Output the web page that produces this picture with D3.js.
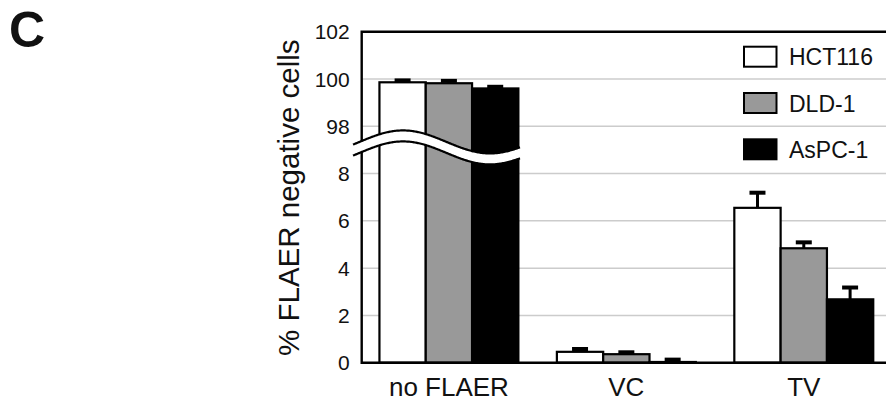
<!DOCTYPE html>
<html>
<head>
<meta charset="utf-8">
<script src="https://cdn.jsdelivr.net/npm/d3@7"></script>
<style>
  body { margin: 0; background: #fff; }
  text { font-family: "Liberation Sans", Arial, sans-serif; fill: #111; }
</style>
</head>
<body>
<svg id="chart"></svg>
<script>
// data
const categories = ['no FLAER', 'VC', 'TV'];
const seriesNames = ['HCT116', 'DLD-1', 'AsPC-1'];
const hct116 = [99.86, 0.46, 6.55];
const hct116Err = [0.08, 0.12, 0.64];
const dld1 = [99.82, 0.36, 4.84];
const dld1Err = [0.1, 0.08, 0.25];
const aspc1 = [99.6, 0.03, 2.68];
const aspc1Err = [0.07, 0.1, 0.5];
const yTicks = [0, 2, 4, 6, 8, 98, 100, 102];
const colors = ['#ffffff', '#999999', '#000000'];

const width = 886;
const height = 402;
const plotLeft = 361.7, plotTop = 31.7, plotBottom = 362.7, plotRight = 891;

const svg = d3.select('#chart')
  .attr('width', width)
  .attr('height', height);

// broken axis: 0-8 below, 98-102 above, the break takes one grid step
const step = (plotBottom - plotTop) / 7;
const y = d3.scaleLinear()
  .domain([0, 8, 98, 102])
  .range([plotBottom, plotBottom - 4 * step, plotBottom - 5 * step, plotTop]);

const x0 = d3.scaleBand()
  .domain(categories)
  .range([plotLeft, plotRight])
  .paddingInner(0.217)
  .paddingOuter(0.1);

const x1 = d3.scaleBand()
  .domain(seriesNames)
  .range([0, x0.bandwidth()]);

const values = [hct116, dld1, aspc1];
const errors = [hct116Err, dld1Err, aspc1Err];
const rows = [];
seriesNames.forEach((s, si) => {
  categories.forEach((c, ci) => {
    rows.push({ series: s, cat: c, value: values[si][ci], err: errors[si][ci], color: colors[si] });
  });
});

// gridlines
svg.append('g')
  .selectAll('line')
  .data(yTicks.filter(t => t !== 0 && t !== 102))
  .join('line')
  .attr('x1', plotLeft).attr('x2', plotRight)
  .attr('y1', d => y(d)).attr('y2', d => y(d))
  .attr('stroke', '#cccccc')
  .attr('stroke-width', 1.5);

// bars
svg.append('g')
  .selectAll('rect')
  .data(rows)
  .join('rect')
  .attr('x', d => x0(d.cat) + x1(d.series))
  .attr('y', d => y(d.value))
  .attr('width', x1.bandwidth())
  .attr('height', d => y(0) - y(d.value))
  .attr('fill', d => d.color)
  .attr('stroke', '#000')
  .attr('stroke-width', 2.2);

// frame
svg.append('path')
  .attr('d', `M${plotRight},${plotTop}H${plotLeft}V${plotBottom}H${plotRight}`)
  .attr('fill', 'none')
  .attr('stroke', '#000')
  .attr('stroke-width', 2.4);

// break wave across the first group
const yMid = (y(8) + y(98)) / 2 - 2.5;
const waveX = d3.range(353, 521, 1);
const wy = xx => yMid - 11.5 * Math.sin(2 * Math.PI * (xx - 359.5) / 174);
const upper = waveX.map(xx => [xx, wy(xx) - 5.5]);
const lower = waveX.map(xx => [xx, wy(xx) + 5.5]);
const line = d3.line();
svg.append('path')
  .attr('d', line(upper.concat(lower.slice().reverse())) + 'Z')
  .attr('fill', '#fff');
[upper, lower].forEach(pts => {
  svg.append('path')
    .attr('d', line(pts))
    .attr('fill', 'none')
    .attr('stroke', '#000')
    .attr('stroke-width', 2.2);
});

// error bars (upper half only)
const eb = svg.append('g').attr('stroke', '#000').attr('stroke-width', 3);
rows.forEach(d => {
  const cx = x0(d.cat) + x1(d.series) + x1.bandwidth() / 2;
  const yt = y(d.value + d.err);
  eb.append('line')
    .attr('x1', cx).attr('x2', cx)
    .attr('y1', y(d.value)).attr('y2', yt);
  eb.append('line')
    .attr('x1', cx - 8).attr('x2', cx + 8)
    .attr('y1', yt).attr('y2', yt)
    .attr('stroke-width', 4);
});

// y tick labels
svg.append('g')
  .selectAll('text')
  .data(yTicks)
  .join('text')
  .attr('x', plotLeft - 12)
  .attr('y', d => y(d))
  .attr('dy', '0.36em')
  .attr('text-anchor', 'end')
  .style('font-size', '21px')
  .text(d => d);

// category labels
svg.append('g')
  .selectAll('text')
  .data(categories)
  .join('text')
  .attr('x', d => x0(d) + x0.bandwidth() / 2)
  .attr('y', 396)
  .attr('text-anchor', 'middle')
  .style('font-size', '26px')
  .text(d => d);

// y axis title
svg.append('text')
  .attr('transform', `translate(298.5, ${(plotTop + plotBottom) / 2 + 0.5}) rotate(-90)`)
  .attr('text-anchor', 'middle')
  .style('font-size', '29.5px')
  .text('% FLAER negative cells');

// legend
const legend = svg.append('g')
  .selectAll('g')
  .data(seriesNames)
  .join('g')
  .attr('transform', (d, i) => `translate(744, ${46.7 + i * 46.3})`);
legend.append('rect')
  .attr('width', 32.5)
  .attr('height', 20)
  .attr('fill', (d, i) => colors[i])
  .attr('stroke', '#000')
  .attr('stroke-width', 2);
legend.append('text')
  .attr('x', 45)
  .attr('y', 18.5)
  .style('font-size', '23px')
  .text(d => d);

// panel letter
svg.append('text')
  .attr('x', 9)
  .attr('y', 46.5)
  .style('font-size', '50px')
  .style('font-weight', 'bold')
  .text('C');
</script>
</body>
</html>
